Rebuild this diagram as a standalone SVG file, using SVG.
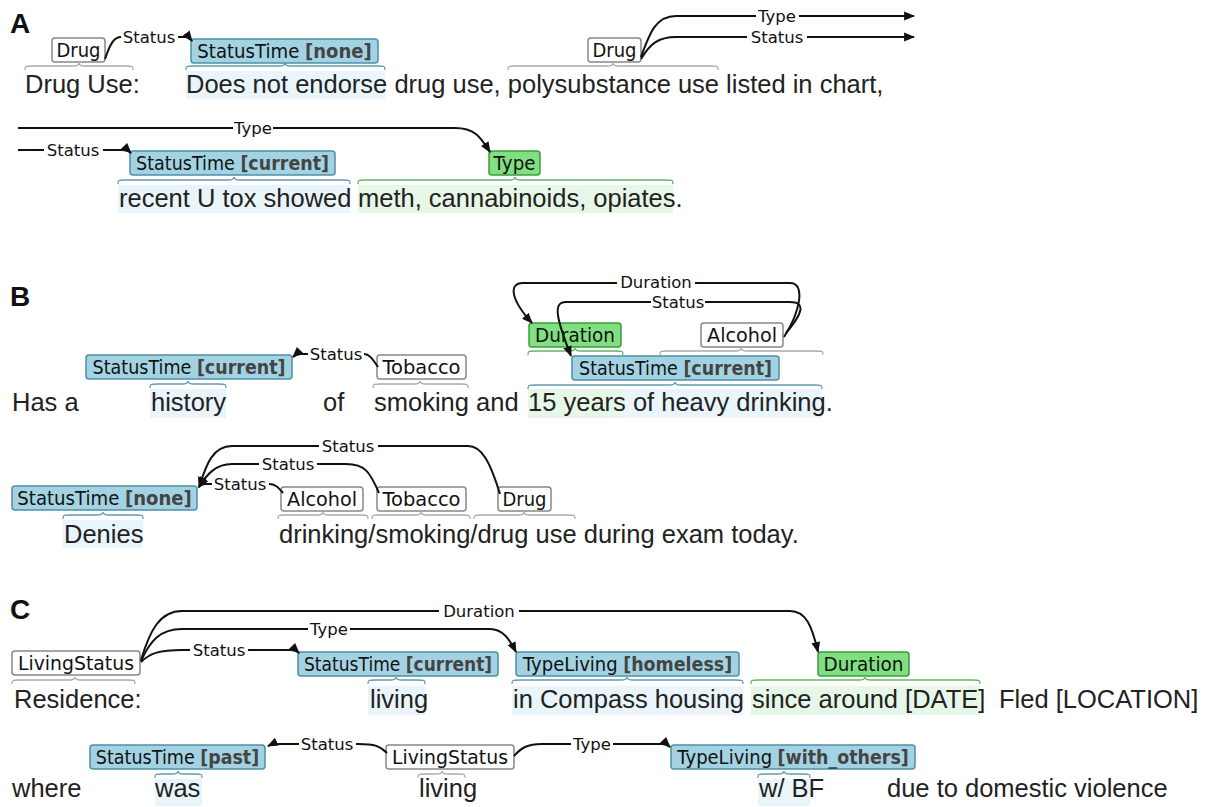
<svg xmlns="http://www.w3.org/2000/svg" width="1208" height="807" viewBox="0 0 1208 807">
<style>
.t{font-family:"Liberation Sans",Arial,sans-serif;font-size:25.5px;fill:#222}
.sec{font-family:"Liberation Sans",Arial,sans-serif;font-size:28px;font-weight:bold;fill:#111}
.lb{font-family:"DejaVu Sans",sans-serif;font-size:19.5px;fill:#111;text-anchor:middle}
.ls{font-family:"DejaVu Sans",sans-serif;font-size:19.5px;fill:#111}
.attr{font-family:"DejaVu Sans",sans-serif;font-size:19.5px;font-weight:bold;fill:#444}
.al{font-family:"DejaVu Sans",sans-serif;font-size:16.5px;fill:#111;text-anchor:middle}
.bb{fill:#a3d3e3;stroke:#4f8fa6;stroke-width:1.5}
.gb{fill:#80df80;stroke:#3f9a3f;stroke-width:1.5}
.wb{fill:#fff;stroke:#888;stroke-width:1.5}
.hb{fill:#e9f5fa}
.hg{fill:#e7f7e7}
.brg{fill:none;stroke:#aaa;stroke-width:1.3}
.brb{fill:none;stroke:#5f9bb2;stroke-width:1.3}
.brn{fill:none;stroke:#5cb85c;stroke-width:1.3}
.arc{fill:none;stroke:#111;stroke-width:2}
.arr{fill:none;stroke:#111;stroke-width:2;marker-end:url(#ah)}
</style>
<defs>
<marker id="ah" viewBox="0 0 10 10" refX="9" refY="5" markerWidth="11" markerHeight="11" markerUnits="userSpaceOnUse" orient="auto"><path d="M0,1 L10,5 L0,9 z" fill="#111"/></marker>
</defs>
<rect width="1208" height="807" fill="#fff"/>

<g id="highlights">
<rect class="hb" x="186" y="71" width="199" height="28"/>
<rect class="hb" x="118" y="185" width="232" height="28"/>
<rect class="hg" x="358" y="185" width="315" height="28"/>
<rect class="hb" x="150" y="389" width="76" height="29"/>
<rect class="hb" x="528" y="389" width="294" height="29"/>
<rect class="hg" x="528" y="389" width="95" height="29"/>
<rect class="hb" x="63" y="520" width="80" height="28"/>
<rect class="hb" x="368" y="686" width="57" height="29"/>
<rect class="hb" x="512" y="686" width="231" height="29"/>
<rect class="hg" x="751" y="686" width="229" height="29"/>
<rect class="hb" x="155" y="779" width="47" height="27"/>
<rect class="hb" x="758" y="779" width="52" height="27"/>
</g>

<g id="braces">
<path class="brg" d="M25,70 C25,66 25,66 33,66 L73,66 Q79,66 79,63 Q79,66 85,66 L125,66 C133,66 133,66 133,70"/>
<path class="brb" d="M186,70 C186,66 186,66 194,66 L279,66 Q285,66 285,63 Q285,66 291,66 L377,66 C385,66 385,66 385,70"/>
<path class="brg" d="M508,70 C508,66 508,66 516,66 L607,66 Q613,66 613,63 Q613,66 619,66 L710,66 C718,66 718,66 718,70"/>
<path class="brb" d="M118,184 C118,180 118,180 126,180 L228,180 Q234,180 234,177 Q234,180 240,180 L342,180 C350,180 350,180 350,184"/>
<path class="brn" d="M358,184 C358,180 358,180 366,180 L509,180 Q515,180 515,177 Q515,180 521,180 L665,180 C673,180 673,180 673,184"/>
<path class="brb" d="M150,388 C150,384 150,384 158,384 L182,384 Q188,384 188,381 Q188,384 194,384 L218,384 C226,384 226,384 226,388"/>
<path class="brg" d="M373,388 C373,384 373,384 381,384 L414,384 Q420,384 420,381 Q420,384 426,384 L460,384 C468,384 468,384 468,388"/>
<path class="brn" d="M528,355 C528,351 528,351 536,351 L569,351 Q575,351 575,348 Q575,351 581,351 L615,351 C623,351 623,351 623,355"/>
<path class="brg" d="M660,355 C660,351 660,351 668,351 L735,351 Q741,351 741,348 Q741,351 747,351 L815,351 C823,351 823,351 823,355"/>
<path class="brb" d="M528,389 C528,385 528,385 536,385 L669,385 Q675,385 675,382 Q675,385 681,385 L814,385 C822,385 822,385 822,389"/>
<path class="brb" d="M63,519 C63,515 63,515 71,515 L97,515 Q103,515 103,512 Q103,515 109,515 L135,515 C143,515 143,515 143,519"/>
<path class="brg" d="M278,519 C278,515 278,515 286,515 L317,515 Q323,515 323,512 Q323,515 329,515 L360,515 C368,515 368,515 368,519"/>
<path class="brg" d="M372,519 C372,515 372,515 380,515 L415,515 Q421,515 421,512 Q421,515 427,515 L462,515 C470,515 470,515 470,519"/>
<path class="brg" d="M474,519 C474,515 474,515 482,515 L518,515 Q524,515 524,512 Q524,515 530,515 L567,515 C575,515 575,515 575,519"/>
<path class="brg" d="M12,684 C12,680 12,680 20,680 L69,680 Q75,680 75,677 Q75,680 81,680 L127,680 C135,680 135,680 135,684"/>
<path class="brb" d="M368,684 C368,680 368,680 376,680 L390,680 Q396,680 396,677 Q396,680 402,680 L417,680 C425,680 425,680 425,684"/>
<path class="brb" d="M512,684 C512,680 512,680 520,680 L621,680 Q627,680 627,677 Q627,680 633,680 L735,680 C743,680 743,680 743,684"/>
<path class="brn" d="M751,684 C751,680 751,680 759,680 L859,680 Q865,680 865,677 Q865,680 871,680 L972,680 C980,680 980,680 980,684"/>
<path class="brb" d="M155,778 C155,774 155,774 163,774 L172,774 Q178,774 178,771 Q178,774 184,774 L194,774 C202,774 202,774 202,778"/>
<path class="brg" d="M418,778 C418,774 418,774 426,774 L436,774 Q442,774 442,771 Q442,774 448,774 L457,774 C465,774 465,774 465,778"/>
<path class="brb" d="M758,778 C758,774 758,774 766,774 L778,774 Q784,774 784,771 Q784,774 790,774 L802,774 C810,774 810,774 810,778"/>
</g>

<g id="A-Drug-1"><rect class="wb" x="52" y="38" width="53" height="24" rx="3"/><text class="lb" x="78.5" y="56.5" textLength="44" lengthAdjust="spacingAndGlyphs">Drug</text></g>
<g id="A-StatusTime-none"><rect class="bb" x="191" y="39" width="187" height="24" rx="3"/><text class="ls" x="197.3" y="57.5" textLength="102" lengthAdjust="spacingAndGlyphs">StatusTime</text><text class="attr" x="305" y="57.5" textLength="66.7" lengthAdjust="spacingAndGlyphs">[none]</text></g>
<g id="A-Drug-2"><rect class="wb" x="588" y="38" width="53" height="24" rx="3"/><text class="lb" x="614.5" y="56.5" textLength="44" lengthAdjust="spacingAndGlyphs">Drug</text></g>
<g id="A-StatusTime-current"><rect class="bb" x="130" y="151" width="205" height="24" rx="3"/><text class="ls" x="136" y="169.5" textLength="98.9" lengthAdjust="spacingAndGlyphs">StatusTime</text><text class="attr" x="240.4" y="169.5" textLength="88.6" lengthAdjust="spacingAndGlyphs">[current]</text></g>
<g id="A-Type"><rect class="gb" x="489" y="151" width="51" height="24" rx="3"/><text class="lb" x="514.5" y="169.5" textLength="42" lengthAdjust="spacingAndGlyphs">Type</text></g>

<g id="B-StatusTime-current-1"><rect class="bb" x="86" y="355" width="206" height="24" rx="3"/><text class="ls" x="92.5" y="373.5" textLength="98.9" lengthAdjust="spacingAndGlyphs">StatusTime</text><text class="attr" x="196.9" y="373.5" textLength="88.6" lengthAdjust="spacingAndGlyphs">[current]</text></g>
<g id="B-Tobacco-1"><rect class="wb" x="377" y="355" width="89" height="24" rx="3"/><text class="lb" x="421.5" y="373.5" textLength="78" lengthAdjust="spacingAndGlyphs">Tobacco</text></g>
<g id="B-Duration"><rect class="gb" x="529" y="323" width="92" height="24" rx="3"/><text class="lb" x="575" y="341.5" textLength="80" lengthAdjust="spacingAndGlyphs">Duration</text></g>
<g id="B-Alcohol-1"><rect class="wb" x="701" y="323" width="82" height="24" rx="3"/><text class="lb" x="742" y="341.5" textLength="70" lengthAdjust="spacingAndGlyphs">Alcohol</text></g>
<g id="B-StatusTime-current-2"><rect class="bb" x="572" y="356" width="207" height="24" rx="3"/><text class="ls" x="579" y="374.5" textLength="98.9" lengthAdjust="spacingAndGlyphs">StatusTime</text><text class="attr" x="683.4" y="374.5" textLength="88.6" lengthAdjust="spacingAndGlyphs">[current]</text></g>
<g id="B-StatusTime-none"><rect class="bb" x="12" y="486" width="185" height="24" rx="3"/><text class="ls" x="17.3" y="504.5" textLength="102" lengthAdjust="spacingAndGlyphs">StatusTime</text><text class="attr" x="125" y="504.5" textLength="66.7" lengthAdjust="spacingAndGlyphs">[none]</text></g>
<g id="B-Alcohol-2"><rect class="wb" x="281" y="487" width="82" height="24" rx="3"/><text class="lb" x="322" y="505.5" textLength="70" lengthAdjust="spacingAndGlyphs">Alcohol</text></g>
<g id="B-Tobacco-2"><rect class="wb" x="377" y="487" width="89" height="24" rx="3"/><text class="lb" x="421.5" y="505.5" textLength="78" lengthAdjust="spacingAndGlyphs">Tobacco</text></g>
<g id="B-Drug"><rect class="wb" x="498" y="487" width="53" height="24" rx="3"/><text class="lb" x="524.5" y="505.5" textLength="44" lengthAdjust="spacingAndGlyphs">Drug</text></g>

<g id="C-LivingStatus-1"><rect class="wb" x="12" y="651" width="128" height="24" rx="3"/><text class="lb" x="76" y="669.5" textLength="116" lengthAdjust="spacingAndGlyphs">LivingStatus</text></g>
<g id="C-StatusTime-current"><rect class="bb" x="298" y="652" width="200" height="24" rx="3"/><text class="ls" x="304" y="670.5" textLength="96.4" lengthAdjust="spacingAndGlyphs">StatusTime</text><text class="attr" x="405.8" y="670.5" textLength="86.3" lengthAdjust="spacingAndGlyphs">[current]</text></g>
<g id="C-TypeLiving-homeless"><rect class="bb" x="516" y="652" width="223" height="24" rx="3"/><text class="ls" x="522.9" y="670.5" textLength="94.8" lengthAdjust="spacingAndGlyphs">TypeLiving</text><text class="attr" x="623.2" y="670.5" textLength="109" lengthAdjust="spacingAndGlyphs">[homeless]</text></g>
<g id="C-Duration"><rect class="gb" x="818" y="652" width="91" height="24" rx="3"/><text class="lb" x="863.5" y="670.5" textLength="80" lengthAdjust="spacingAndGlyphs">Duration</text></g>
<g id="C-StatusTime-past"><rect class="bb" x="90" y="745" width="175" height="24" rx="3"/><text class="ls" x="95.8" y="763.5" textLength="98.9" lengthAdjust="spacingAndGlyphs">StatusTime</text><text class="attr" x="200.2" y="763.5" textLength="59" lengthAdjust="spacingAndGlyphs">[past]</text></g>
<g id="C-LivingStatus-2"><rect class="wb" x="386" y="745" width="128" height="24" rx="3"/><text class="lb" x="450" y="763.5" textLength="116" lengthAdjust="spacingAndGlyphs">LivingStatus</text></g>
<g id="C-TypeLiving-with-others"><rect class="bb" x="671" y="745" width="244" height="24" rx="3"/><text class="ls" x="677.3" y="763.5" textLength="94.8" lengthAdjust="spacingAndGlyphs">TypeLiving</text><text class="attr" x="777.6" y="763.5" textLength="131.2" lengthAdjust="spacingAndGlyphs">[with_others]</text></g>

<g id="connectors">
<path class="arc" d="M105,59 C110,44 114,37 121,37"/>
<path class="arr" d="M178,37 L185,37 Q189,37 192,41"/>
<path class="arc" d="M641,57 C650,32 656,16 676,16 L756,16"/>
<path class="arr" d="M799,16 L914,16"/>
<path class="arc" d="M641,59 C650,44 658,37 676,37 L747,37"/>
<path class="arr" d="M807,37 L914,37"/>
<path class="arc" d="M18,128 L233,128"/>
<path class="arr" d="M273,128 L455,128 C474,128 480,136 490,152"/>
<path class="arc" d="M18,150 L44,150"/>
<path class="arr" d="M103,150 L122,150 Q128,150 131,153"/>
<path class="arc" d="M378,367 C372,358 369,354 364,354"/>
<path class="arr" d="M308,354 L301,354 Q296,354 293,357"/>
<path class="arc" d="M784,337 C800,312 806,283 790,283 L695,283"/>
<path class="arr" d="M617,283 L523,283 C508,283 511,300 532,323"/>
<path class="arc" d="M786,333 C803,313 806,302 790,302 L705,302"/>
<path class="arr" d="M651,302 L566,302 C552,302 557,320 571,356"/>
<path class="arc" d="M500,494 C490,462 482,446 468,446 L378,446"/>
<path class="arr" d="M319,446 L232,446 C212,446 206,466 199,487"/>
<path class="arc" d="M379,493 C370,472 365,464 346,464 L317,464"/>
<path class="arr" d="M259,464 L232,464 C216,464 207,474 199,487"/>
<path class="arc" d="M283,493 C278,487 275,484 269,484"/>
<path class="arr" d="M212,484 L205,484 Q201,484 199,487"/>
<path class="arc" d="M141,660 C150,630 160,611 182,611 L439,611"/>
<path class="arr" d="M519,611 L790,611 C806,611 812,626 818,652"/>
<path class="arc" d="M141,661 C150,641 160,629 182,629 L308,629"/>
<path class="arr" d="M350,629 L490,629 C503,629 510,640 516,652"/>
<path class="arc" d="M141,662 C150,653 160,650 182,650 L190,650"/>
<path class="arr" d="M248,650 L290,650 Q296,650 299,653"/>
<path class="arc" d="M387,753 C380,746 375,744 358,744 L356,744"/>
<path class="arr" d="M299,744 L279,744 Q272,744 268,746"/>
<path class="arc" d="M514,756 C521,748 527,744 542,744 L571,744"/>
<path class="arr" d="M613,744 L662,744 Q667,744 670,747"/>
</g>

<g id="arc-labels">
<text class="al" x="149" y="43">Status</text>
<text class="al" x="777" y="22">Type</text>
<text class="al" x="777" y="43">Status</text>
<text class="al" x="253" y="134">Type</text>
<text class="al" x="73" y="156">Status</text>
<text class="al" x="336" y="360">Status</text>
<text class="al" x="656" y="288">Duration</text>
<text class="al" x="678" y="308">Status</text>
<text class="al" x="348" y="452">Status</text>
<text class="al" x="288" y="470">Status</text>
<text class="al" x="240" y="490">Status</text>
<text class="al" x="479" y="617">Duration</text>
<text class="al" x="329" y="635">Type</text>
<text class="al" x="219" y="656">Status</text>
<text class="al" x="327" y="750">Status</text>
<text class="al" x="592" y="750">Type</text>
</g>

<g id="text">
<text class="sec" x="10" y="33">A</text>
<text class="sec" x="10" y="306">B</text>
<text class="sec" x="10" y="619">C</text>
<text class="t" x="25" y="93">Drug Use:</text>
<text class="t" x="186" y="93">Does not endorse drug use, polysubstance use listed in chart,</text>
<text class="t" x="119" y="207">recent U tox showed</text>
<text class="t" x="358" y="207">meth, cannabinoids, opiates.</text>
<text class="t" x="12" y="411">Has a</text>
<text class="t" x="151" y="411">history</text>
<text class="t" x="323" y="411">of</text>
<text class="t" x="374" y="411">smoking and</text>
<text class="t" x="528" y="411">15 years of heavy drinking.</text>
<text class="t" x="64" y="543">Denies</text>
<text class="t" x="279" y="543">drinking/smoking/drug use during exam today.</text>
<text class="t" x="14" y="708">Residence:</text>
<text class="t" x="370" y="708">living</text>
<text class="t" x="513" y="708">in Compass housing</text>
<text class="t" x="752" y="708">since around [DATE]</text>
<text class="t" x="999" y="708">Fled [LOCATION]</text>
<text class="t" x="12" y="797">where</text>
<text class="t" x="155" y="797">was</text>
<text class="t" x="419" y="797">living</text>
<text class="t" x="759" y="797">w/ BF</text>
<text class="t" x="887" y="797">due to domestic violence</text>
</g>
</svg>
